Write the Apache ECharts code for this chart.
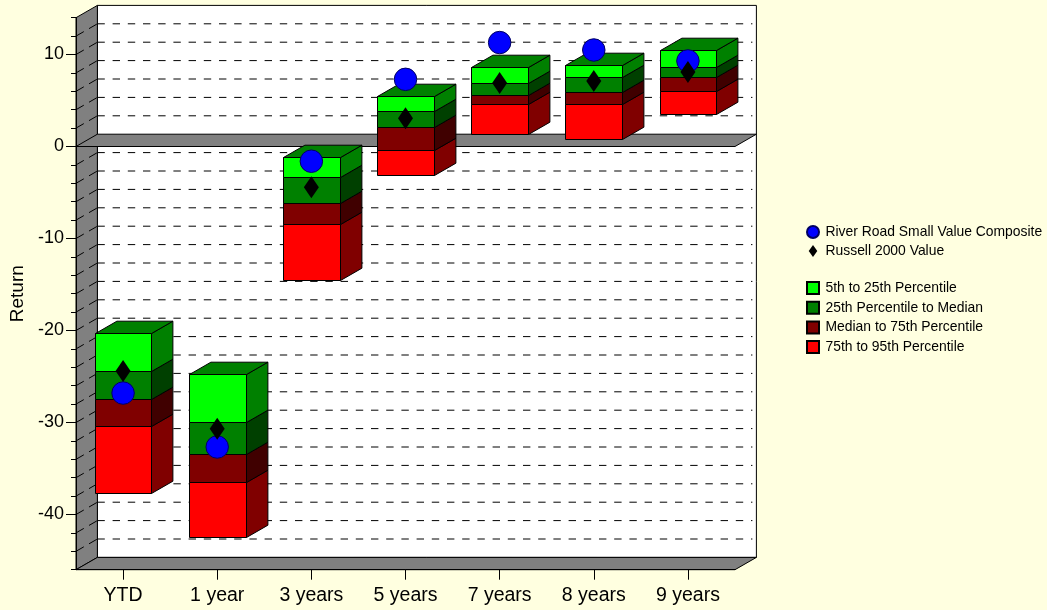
<!DOCTYPE html>
<html>
<head>
<meta charset="utf-8">
<title>Return percentiles</title>
<script src="https://cdn.jsdelivr.net/npm/echarts@6/dist/echarts.min.js"></script>
<style>
  html, body { margin: 0; padding: 0; background: #ffffe0; }
  #chart { width: 1047px; height: 610px; }
</style>
</head>
<body>
<div id="chart"></div>
<script>
// Periods along the horizontal axis
const periods = ['YTD', '1 year', '3 years', '5 years', '7 years', '8 years', '9 years'];

// Universe percentile breakpoints, one value per period
const p5 = [-20.26, -24.7, -1.1, 5.45, 8.6, 8.86, 10.5];
const p25 = [-24.4, -29.9, -3.3, 3.85, 6.87, 7.52, 8.6];
const p50 = [-27.4, -33.45, -6.15, 2.1, 5.63, 5.96, 7.5];
const p75 = [-30.4, -36.5, -8.4, -0.4, 4.6, 4.62, 6.07];
const p95 = [-37.65, -42.4, -14.55, -3.1, 1.36, 0.78, 3.5];

// Manager and benchmark returns
const composite = [-26.8, -32.66, -1.6, 7.3, 11.3, 10.49, 9.3];
const benchmark = [-24.4, -30.67, -4.43, 3.07, 6.9, 7.12, 8.1];

// Value axis
const axisMin = -46;
const axisMax = 14;
const axisStep = 2;
const labelledTicks = [-40, -30, -20, -10, 0, 10];
const dashedLevels = [-44, -42, -40, -38, -36, -34, -32, -30, -28, -26, -24, -22, -20, -18, -16,
  -14, -12, -10, -8, -6, -4, -2, 2, 4, 6, 8, 10, 12];

// Pseudo-3D projection of the chart depth, in pixels
const DEPTH_X = 21.4;
const DEPTH_Y = 12.3;
const BOX_HALF = 28.4;
const GREY = '#808080';
const EDGE = '#000000';

function polygon(points, fill, z2) {
  return {
    type: 'polygon',
    z2: z2 || 0,
    shape: { points: points },
    style: { fill: fill, stroke: EDGE, lineWidth: 1 }
  };
}

function line(x1, y1, x2, y2, stroke, dash) {
  return {
    type: 'line',
    shape: { x1: x1, y1: y1, x2: x2, y2: y2 },
    style: { stroke: stroke, lineWidth: 1, lineDash: dash || null, fill: null }
  };
}

// Side wall, back wall and floor
function renderFrame(params, api) {
  const sys = params.coordSys;
  const left = sys.x;
  const right = sys.x + sys.width;
  const top = api.coord([0, axisMax])[1];
  const bottom = api.coord([0, axisMin])[1];
  const bx = DEPTH_X;
  const by = DEPTH_Y;
  return {
    type: 'group',
    children: [
      polygon([[left + bx, top - by], [right + bx, top - by], [right + bx, bottom - by], [left + bx, bottom - by]], '#ffffff'),
      polygon([[left, top], [left + bx, top - by], [left + bx, bottom - by], [left, bottom]], GREY),
      polygon([[left, bottom], [left + bx, bottom - by], [right + bx, bottom - by], [right, bottom]], GREY)
    ]
  };
}

// The raised plane at zero return
function renderZeroPlane(params, api) {
  const sys = params.coordSys;
  const left = sys.x;
  const right = sys.x + sys.width;
  const zero = api.coord([0, 0])[1];
  return polygon([[left, zero], [left + DEPTH_X, zero - DEPTH_Y], [right + DEPTH_X, zero - DEPTH_Y], [right, zero]], GREY);
}

// One dashed level: a stroke across the side wall and a run along the back wall
function renderLevel(params, api) {
  const sys = params.coordSys;
  const left = sys.x;
  const right = sys.x + sys.width;
  const y = api.coord([0, api.value(0)])[1];
  return {
    type: 'group',
    silent: true,
    children: [
      line(left, y, left + DEPTH_X, y - DEPTH_Y, '#000000', [9, 6]),
      line(left + DEPTH_X, y - DEPTH_Y, right + DEPTH_X - 4, y - DEPTH_Y, '#000000', [7.4, 7.8])
    ]
  };
}

// One percentile slab of a floating box; withTop adds the cap on the highest slab
function boxRenderer(frontColor, sideColor, withTop) {
  return function (params, api) {
    const i = api.value(0);
    const cx = api.coord([i, 0])[0];
    const x1 = Math.round(cx - BOX_HALF) + 0.5;
    const x2 = Math.round(cx + BOX_HALF) + 0.5;
    const yTop = Math.round(api.coord([i, api.value(1)])[1]) + 0.5;
    const yBot = Math.round(api.coord([i, api.value(2)])[1]) + 0.5;
    const children = [
      polygon([[x2, yTop], [x2 + DEPTH_X, yTop - DEPTH_Y], [x2 + DEPTH_X, yBot - DEPTH_Y], [x2, yBot]], sideColor),
      polygon([[x1, yTop], [x2, yTop], [x2, yBot], [x1, yBot]], frontColor)
    ];
    if (withTop) {
      children.push(polygon([[x1, yTop], [x1 + DEPTH_X, yTop - DEPTH_Y], [x2 + DEPTH_X, yTop - DEPTH_Y], [x2, yTop]], '#008000'));
    }
    return { type: 'group', children: children };
  };
}

function slab(upper, lower) {
  return periods.map(function (_, i) { return [i, upper[i], lower[i]]; });
}

function boxSeries(name, upper, lower, front, side, withTop, z) {
  return {
    name: name,
    type: 'custom',
    z: z,
    silent: true,
    itemStyle: { color: front, borderColor: EDGE, borderWidth: 1 },
    renderItem: boxRenderer(front, side, withTop),
    encode: { x: 0, y: [1, 2] },
    data: slab(upper, lower)
  };
}

const chart = echarts.init(document.getElementById('chart'), null, { renderer: 'canvas' });
const FONT = '"Liberation Sans", Arial, sans-serif';

const legendBase = {
  left: 806,
  orient: 'vertical',
  padding: 0,
  itemWidth: 12,
  itemHeight: 12,
  selectedMode: false,
  textStyle: { color: '#000', fontSize: 13.9, fontFamily: FONT, padding: [0, 0, 0, 1.5] }
};

chart.setOption({
  animation: false,
  backgroundColor: '#ffffe0',
  textStyle: { fontFamily: FONT },
  grid: { left: 76, top: 17.7, width: 659, height: 552, outerBoundsMode: 'none' },
  xAxis: {
    type: 'category',
    data: periods,
    boundaryGap: true,
    axisLine: { show: true, onZero: false, lineStyle: { color: '#000', width: 1 } },
    axisTick: { show: true, alignWithLabel: true, length: 10, lineStyle: { color: '#000' } },
    axisLabel: { interval: 0, color: '#000', fontSize: 19.5, fontFamily: FONT, margin: 16 },
    z: 3
  },
  yAxis: [
    {
      type: 'value',
      min: axisMin,
      max: axisMax,
      interval: axisStep,
      name: 'Return',
      nameLocation: 'middle',
      nameGap: 43,
      nameRotate: 90,
      nameTextStyle: { color: '#000', fontSize: 19, fontFamily: FONT },
      splitLine: { show: false },
      axisLine: { show: true, lineStyle: { color: '#000', width: 1 } },
      axisTick: { show: true, length: 10, customValues: labelledTicks, lineStyle: { color: '#000' } },
      axisLabel: { color: '#000', fontSize: 18, fontFamily: FONT, margin: 12, padding: [4, 0, 0, 0], customValues: labelledTicks },
      z: 3
    },
    {
      type: 'value',
      position: 'left',
      min: axisMin,
      max: axisMax,
      interval: axisStep,
      splitLine: { show: false },
      axisLine: { show: false },
      axisTick: { show: true, length: 5, lineStyle: { color: '#000' } },
      axisLabel: { show: false },
      z: 3
    }
  ],
  legend: [
    Object.assign({}, legendBase, {
      top: 225,
      itemGap: 5,
      data: [
        { name: 'River Road Small Value Composite', icon: 'circle' },
        { name: 'Russell 2000 Value', icon: 'path://M5,0 L10,7 L5,14 L0,7 Z' }
      ]
    }),
    Object.assign({}, legendBase, {
      top: 281,
      itemGap: 5.7,
      data: [
        { name: '5th to 25th Percentile', icon: 'rect' },
        { name: '25th Percentile to Median', icon: 'rect' },
        { name: 'Median to 75th Percentile', icon: 'rect' },
        { name: '75th to 95th Percentile', icon: 'rect' }
      ]
    })
  ],
  series: [
    { type: 'custom', name: 'frame', z: 1, silent: true, renderItem: renderFrame, data: [[0]] },
    { type: 'custom', name: 'levels', z: 1.5, silent: true, renderItem: renderLevel, encode: { y: 0 }, data: dashedLevels.map(function (v) { return [v]; }) },
    { type: 'custom', name: 'zero plane', z: 2, silent: true, renderItem: renderZeroPlane, data: [[0]] },
    boxSeries('75th to 95th Percentile', p75, p95, '#ff0000', '#800000', false, 4),
    boxSeries('Median to 75th Percentile', p50, p75, '#800000', '#400000', false, 4.1),
    boxSeries('25th Percentile to Median', p25, p50, '#008000', '#004000', false, 4.2),
    boxSeries('5th to 25th Percentile', p5, p25, '#00ff00', '#008000', true, 4.3),
    {
      name: 'River Road Small Value Composite',
      type: 'scatter',
      z: 6,
      symbol: 'circle',
      symbolSize: 22.5,
      silent: true,
      itemStyle: { color: '#0000ff', borderColor: '#000060', borderWidth: 1, opacity: 1 },
      data: composite
    },
    {
      name: 'Russell 2000 Value',
      type: 'scatter',
      z: 7,
      symbol: 'diamond',
      symbolSize: [15, 22],
      silent: true,
      itemStyle: { color: '#000000', opacity: 1 },
      data: benchmark
    }
  ]
});
</script>
</body>
</html>
